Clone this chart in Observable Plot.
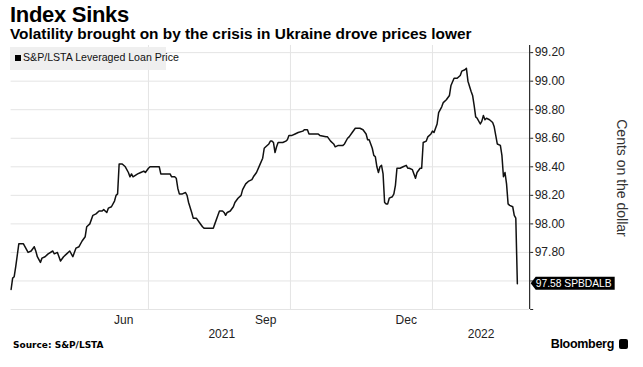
<!DOCTYPE html>
<html><head><meta charset="utf-8">
<script src="https://cdn.jsdelivr.net/npm/d3@7"></script>
<script src="https://cdn.jsdelivr.net/npm/@observablehq/plot@0.6"></script>
<style>
body{margin:0;background:#fff;}
#wrap{position:relative;width:643px;height:367px;overflow:hidden;font-family:"Liberation Sans",Arial,sans-serif;color:#000;}
#title{position:absolute;left:10px;top:2px;font-size:22px;font-weight:bold;letter-spacing:-0.3px;}
#subtitle{position:absolute;left:10px;top:25px;font-size:15.4px;font-weight:bold;white-space:nowrap;}
#chart{position:absolute;left:0;top:40px;}
#legend{position:absolute;left:10px;top:47px;width:156px;height:23px;background:rgba(238,238,238,0.92);font-size:10.6px;color:#111;line-height:21px;white-space:nowrap;}
#legend span.sw{display:inline-block;width:6px;height:6px;background:#000;margin:0 2px 0 5px;vertical-align:0px;}
#ylabel{position:absolute;left:622px;top:178px;transform:translate(-50%,-50%) rotate(90deg);font-size:14px;color:#333;white-space:nowrap;}
#source{position:absolute;left:13px;top:340px;font-family:"DejaVu Sans",sans-serif;font-size:9px;font-weight:bold;}
#brand{position:absolute;right:29px;top:337px;font-size:12.5px;font-weight:bold;letter-spacing:-0.3px;}
#logo{position:absolute;left:619px;top:339px;width:9px;height:10px;background:#000;border-radius:2px;}
</style></head>
<body>
<div id="wrap">
  <div id="title">Index Sinks</div>
  <div id="subtitle">Volatility brought on by the crisis in Ukraine drove prices lower</div>
  <div id="chart"></div>
  <div id="legend"><span class="sw"></span>S&amp;P/LSTA Leveraged Loan Price</div>
  <div id="ylabel">Cents on the dollar</div>
  <div id="source">Source: S&amp;P/LSTA</div>
  <div id="brand">Bloomberg</div>
  <div id="logo"></div>
</div>
<script>
const dates = ["2021-04-03","2021-04-04","2021-04-05","2021-04-06","2021-04-08","2021-04-11","2021-04-14","2021-04-16","2021-04-18","2021-04-19","2021-04-20","2021-04-22","2021-04-23","2021-04-25","2021-04-27","2021-04-30","2021-05-01","2021-05-03","2021-05-05","2021-05-07","2021-05-09","2021-05-11","2021-05-13","2021-05-15","2021-05-17","2021-05-19","2021-05-21","2021-05-22","2021-05-24","2021-05-26","2021-05-28","2021-05-30","2021-06-01","2021-06-02","2021-06-04","2021-06-05","2021-06-07","2021-06-09","2021-06-10","2021-06-11","2021-06-12","2021-06-14","2021-06-16","2021-06-18","2021-06-19","2021-06-20","2021-06-21","2021-06-24","2021-06-26","2021-06-28","2021-06-29","2021-07-01","2021-07-02","2021-07-05","2021-07-07","2021-07-08","2021-07-09","2021-07-12","2021-07-15","2021-07-16","2021-07-18","2021-07-19","2021-07-20","2021-07-21","2021-07-22","2021-07-23","2021-07-25","2021-07-26","2021-07-27","2021-07-29","2021-07-30","2021-08-01","2021-08-03","2021-08-05","2021-08-06","2021-08-09","2021-08-12","2021-08-13","2021-08-15","2021-08-16","2021-08-18","2021-08-19","2021-08-20","2021-08-21","2021-08-23","2021-08-25","2021-08-26","2021-08-28","2021-08-30","2021-08-31","2021-09-02","2021-09-04","2021-09-06","2021-09-07","2021-09-09","2021-09-11","2021-09-13","2021-09-14","2021-09-15","2021-09-17","2021-09-18","2021-09-19","2021-09-20","2021-09-21","2021-09-22","2021-09-23","2021-09-26","2021-09-28","2021-09-29","2021-09-30","2021-10-02","2021-10-04","2021-10-06","2021-10-09","2021-10-10","2021-10-12","2021-10-13","2021-10-15","2021-10-17","2021-10-19","2021-10-20","2021-10-24","2021-10-25","2021-10-27","2021-10-29","2021-10-30","2021-11-01","2021-11-04","2021-11-05","2021-11-07","2021-11-08","2021-11-10","2021-11-12","2021-11-13","2021-11-15","2021-11-17","2021-11-19","2021-11-20","2021-11-21","2021-11-22","2021-11-23","2021-11-24","2021-11-25","2021-11-26","2021-11-27","2021-11-28","2021-11-29","2021-11-30","2021-12-01","2021-12-02","2021-12-03","2021-12-04","2021-12-06","2021-12-07","2021-12-08","2021-12-09","2021-12-11","2021-12-13","2021-12-15","2021-12-16","2021-12-17","2021-12-19","2021-12-21","2021-12-22","2021-12-24","2021-12-25","2021-12-26","2021-12-28","2021-12-29","2021-12-31","2022-01-01","2022-01-02","2022-01-04","2022-01-05","2022-01-07","2022-01-08","2022-01-10","2022-01-12","2022-01-13","2022-01-15","2022-01-17","2022-01-19","2022-01-20","2022-01-22","2022-01-23","2022-01-24","2022-01-26","2022-01-27","2022-01-28","2022-01-29","2022-01-30","2022-02-01","2022-02-02","2022-02-03","2022-02-04","2022-02-05","2022-02-07","2022-02-09","2022-02-10","2022-02-11","2022-02-12","2022-02-14","2022-02-15","2022-02-16","2022-02-17","2022-02-18","2022-02-19","2022-02-20","2022-02-22","2022-02-23","2022-02-24","2022-02-25"];
const prices = [97.54,97.62,97.63,97.70,97.86,97.86,97.80,97.81,97.84,97.81,97.77,97.73,97.76,97.77,97.79,97.81,97.79,97.80,97.74,97.77,97.79,97.81,97.77,97.83,97.84,97.88,97.91,97.98,98.00,98.06,98.07,98.09,98.09,98.10,98.08,98.11,98.12,98.16,98.20,98.21,98.42,98.42,98.40,98.36,98.33,98.35,98.33,98.35,98.36,98.37,98.36,98.39,98.40,98.40,98.40,98.40,98.35,98.35,98.35,98.33,98.33,98.32,98.25,98.21,98.21,98.21,98.22,98.20,98.15,98.08,98.04,98.04,98.01,97.98,97.97,97.97,97.97,98.00,98.06,98.09,98.09,98.08,98.06,98.08,98.09,98.12,98.15,98.18,98.20,98.24,98.28,98.30,98.31,98.33,98.36,98.41,98.46,98.53,98.54,98.56,98.58,98.58,98.57,98.50,98.54,98.57,98.57,98.58,98.59,98.62,98.62,98.63,98.64,98.65,98.66,98.66,98.63,98.63,98.63,98.63,98.62,98.61,98.61,98.58,98.56,98.54,98.55,98.55,98.56,98.60,98.61,98.64,98.67,98.67,98.67,98.66,98.63,98.59,98.59,98.56,98.53,98.48,98.47,98.40,98.36,98.40,98.41,98.35,98.15,98.14,98.14,98.18,98.19,98.21,98.27,98.39,98.39,98.40,98.41,98.39,98.39,98.38,98.32,98.36,98.39,98.39,98.57,98.58,98.61,98.63,98.65,98.64,98.70,98.78,98.82,98.85,98.87,98.90,98.97,99.02,99.02,99.04,99.07,99.08,99.09,99.00,98.93,98.90,98.83,98.75,98.74,98.70,98.72,98.76,98.73,98.74,98.73,98.71,98.68,98.62,98.56,98.55,98.48,98.33,98.36,98.28,98.14,98.13,98.12,98.06,98.04,97.58];
const yTicks = [97.4, 97.6, 97.8, 98.0, 98.2, 98.4, 98.6, 98.8, 99.0, 99.2];
const monthTicks = ["2021-06-15", "2021-09-15", "2021-12-15"];
const monthLabels = ["Jun", "Sep", "Dec"];
const gridDates = ["2021-07-01", "2021-10-01", "2022-01-01"];
const yearLabels = ["2021", "2022"];
const xStart = "2021-04-03", xEnd = "2022-03-05", yearBreak = "2022-01-01";
const tagLabel = "SPBDALB";

const data = dates.map((d, i) => ({date: new Date(d), price: prices[i]}));
const t0 = new Date(xStart), t1 = new Date(xEnd), tb = new Date(yearBreak);
const yearData = [
  {date: new Date((+t0 + +tb) / 2), label: yearLabels[0]},
  {date: new Date((+tb + +t1) / 2), label: yearLabels[1]}
];
const months = monthTicks.map((d, i) => ({date: new Date(d), label: monthLabels[i]}));
const yMin = 97.4, yMax = 99.25;

const chart = Plot.plot({
  width: 643, height: 305,
  marginTop: 5, marginBottom: 36, marginLeft: 10.6, marginRight: 113.8,
  style: {fontFamily: "'Liberation Sans', Arial, sans-serif", color: "#222", background: "transparent"},
  x: {type: "utc", domain: [t0, t1], axis: null},
  y: {domain: [yMin, yMax], axis: null},
  marks: [
    Plot.gridY(yTicks, {stroke: "#e4e4e4", strokeOpacity: 1}),
    Plot.gridX(gridDates.map(d => new Date(d)), {stroke: "#e4e4e4", strokeOpacity: 1}),
    Plot.lineY(data, {x: "date", y: "price", stroke: "#111", strokeWidth: 1.5}),
    Plot.ruleX([t1], {y1: yMin, y2: yMax, stroke: "#000", strokeWidth: 1}),
    Plot.axisY(yTicks, {anchor: "right", tickSize: 3, tickPadding: 2, fontSize: 12, label: null,
      tickFormat: d => d >= 97.79 ? d.toFixed(2) : ""}),
    Plot.text(months, {x: "date", text: "label", frameAnchor: "bottom", dy: 14, fontSize: 12, fill: "#222"}),
    Plot.text(yearData, {x: "date", text: "label", frameAnchor: "bottom", dy: 28, fontSize: 12, fill: "#222"})
  ]
});
document.getElementById("chart").appendChild(chart);

// last value tag
const last = data[data.length - 1];
const sx = chart.scale("x"), sy = chart.scale("y");
const svg = d3.select(chart);
const g = svg.append("g").attr("transform", `translate(${sx.apply(t1) + 1.5},${sy.apply(last.price)})`);
g.append("path").attr("d", "M0,0 L5,-6.5 L84,-6.5 L84,6.5 L5,6.5 Z").attr("fill", "#000");
g.append("text").attr("x", 5).attr("y", 0).attr("dy", "0.36em").attr("fill", "#fff")
  .attr("text-anchor", "start")
  .attr("font-size", 11.5).attr("font-family", "'Liberation Sans', Arial, sans-serif")
  .attr("textLength", 76).attr("lengthAdjust", "spacingAndGlyphs")
  .text(`${last.price.toFixed(2)} ${tagLabel}`);
</script>
</body></html>
